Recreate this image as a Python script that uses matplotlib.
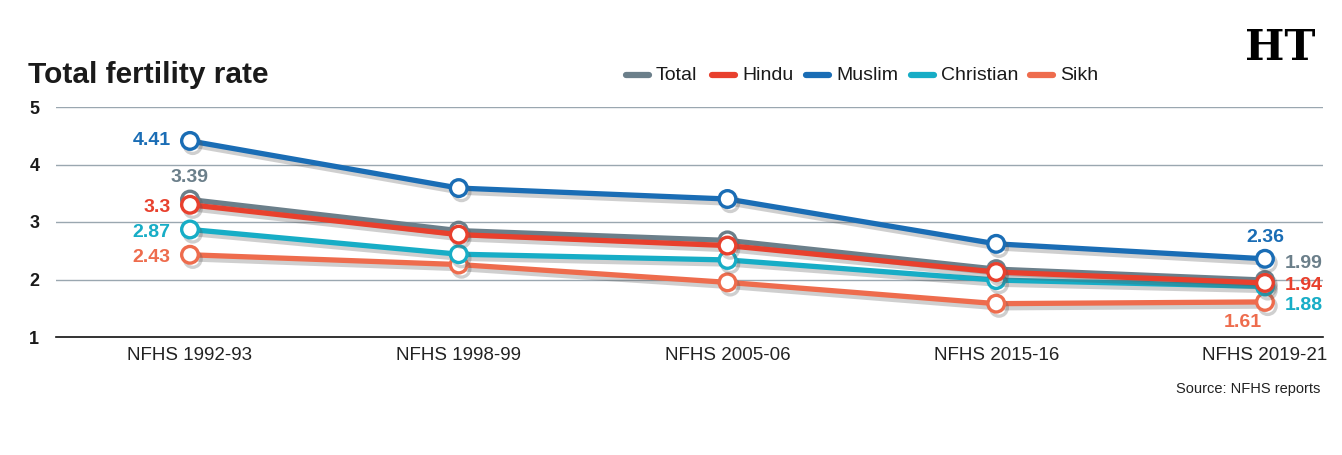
import matplotlib.pyplot as plt
import matplotlib.patheffects as pe
from matplotlib.lines import Line2D

# Data
rounds = ['NFHS 1992-93', 'NFHS 1998-99', 'NFHS 2005-06', 'NFHS 2015-16', 'NFHS 2019-21']
total = [3.39, 2.85, 2.68, 2.18, 1.99]
hindu = [3.3, 2.78, 2.59, 2.13, 1.94]
muslim = [4.41, 3.59, 3.40, 2.62, 2.36]
christian = [2.87, 2.44, 2.34, 1.99, 1.88]
sikh = [2.43, 2.26, 1.95, 1.58, 1.61]

colors = {'Total': '#6b7f8a', 'Hindu': '#e8402d', 'Muslim': '#1a6db5',
          'Christian': '#17adc6', 'Sikh': '#ee6c4d'}

plt.rcParams['font.family'] = ['Liberation Sans', 'DejaVu Sans']

fig = plt.figure(figsize=(13.42, 4.55), dpi=100)
ax = fig.add_axes([56 / 1342, 118 / 455, (1323 - 56) / 1342, 230 / 455])

x = list(range(len(rounds)))
series = [('Sikh', sikh), ('Christian', christian), ('Total', total),
          ('Hindu', hindu), ('Muslim', muslim)]
shadow = [pe.SimpleLineShadow(offset=(2, -3), shadow_color='#555555', alpha=0.28),
          pe.Normal()]
for i, (name, vals) in enumerate(series):
    ax.plot(x, vals, color=colors[name], lw=3.8, marker='o', markersize=12,
            markerfacecolor='white', markeredgecolor=colors[name], markeredgewidth=2.4,
            zorder=3 + i, path_effects=shadow, solid_capstyle='round')

ax.set_xlim(-0.4986, 4.216)
ax.set_ylim(1, 5)
ax.set_yticks([1, 2, 3, 4, 5])
ax.set_yticklabels(['1', '2', '3', '4', '5'], fontsize=13, fontweight='bold', color='#1a1a1a')
ax.set_xticks(x)
ax.set_xticklabels(rounds, fontsize=13.5, color='#222222')
ax.tick_params(length=0)
ax.tick_params(axis='y', pad=12)
ax.tick_params(axis='x', pad=7)
for y in [2, 3, 4, 5]:
    ax.axhline(y, color='#9aa7b0', lw=1.0, zorder=1)
for s in ['top', 'right', 'left']:
    ax.spines[s].set_visible(False)
ax.spines['bottom'].set_color('#111111')
ax.spines['bottom'].set_linewidth(1.2)

# value labels at the first and last rounds
lab = dict(fontsize=14, fontweight='bold')
ax.annotate(f'{muslim[0]}', (0, muslim[0]), xytext=(-14, 0), textcoords='offset points',
            ha='right', va='center', color=colors['Muslim'], **lab)
ax.annotate(f'{total[0]}', (0, total[0]), xytext=(0, 10), textcoords='offset points',
            ha='center', va='bottom', color=colors['Total'], **lab)
ax.annotate(f'{hindu[0]}', (0, hindu[0]), xytext=(-14, -2), textcoords='offset points',
            ha='right', va='center', color=colors['Hindu'], **lab)
ax.annotate(f'{christian[0]}', (0, christian[0]), xytext=(-14, -2), textcoords='offset points',
            ha='right', va='center', color=colors['Christian'], **lab)
ax.annotate(f'{sikh[0]}', (0, sikh[0]), xytext=(-14, -2), textcoords='offset points',
            ha='right', va='center', color=colors['Sikh'], **lab)

ax.annotate(f'{muslim[4]}', (4, muslim[4]), xytext=(0, 9), textcoords='offset points',
            ha='center', va='bottom', color=colors['Muslim'], **lab)
ax.annotate(f'{total[4]:.2f}', (4, total[4]), xytext=(14, 12), textcoords='offset points',
            ha='left', va='center', color=colors['Total'], **lab)
ax.annotate(f'{hindu[4]}', (4, hindu[4]), xytext=(14, -2), textcoords='offset points',
            ha='left', va='center', color=colors['Hindu'], **lab)
ax.annotate(f'{christian[4]}', (4, christian[4]), xytext=(14, -14), textcoords='offset points',
            ha='left', va='center', color=colors['Christian'], **lab)
ax.annotate(f'{sikh[4]}', (4, sikh[4]), xytext=(-2, -9), textcoords='offset points',
            ha='right', va='top', color=colors['Sikh'], **lab)

# title
fig.text(28 / 1342, 1 - 75 / 455, 'Total fertility rate', fontsize=21.5, fontweight='bold',
         color='#1a1a1a', ha='left', va='center')

# legend drawn by hand
leg = [('Total', 624), ('Hindu', 710), ('Muslim', 804), ('Christian', 909), ('Sikh', 1028)]
ly = 1 - 75 / 455
for name, px in leg:
    fig.add_artist(Line2D([(px + 2) / 1342, (px + 25) / 1342], [ly, ly], color=colors[name],
                          lw=4.5, solid_capstyle='round', transform=fig.transFigure))
    fig.text((px + 32) / 1342, ly, name, fontsize=14, color='#1a1a1a', ha='left', va='center')

# logo
fig.text(1280 / 1342, 1 - 48 / 455, 'HT', fontsize=30, fontweight='bold',
         family=['DejaVu Serif'], color='black', ha='center', va='center')

# source
fig.text(1320 / 1342, 1 - 389 / 455, 'Source: NFHS reports', fontsize=10.5,
         color='#222222', ha='right', va='center')

plt.savefig('out.png', dpi=100)
